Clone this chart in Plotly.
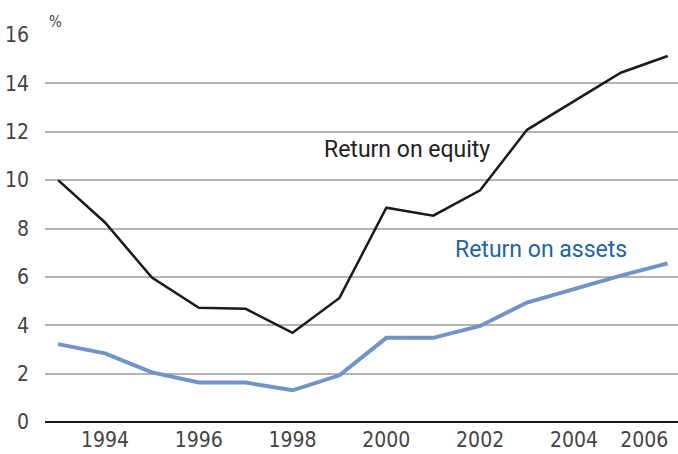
import plotly.graph_objects as go

years = list(range(1993, 2007))
roe = [10.0, 8.25, 5.97, 4.72, 4.68, 3.69, 5.13, 8.86, 8.53, 9.58, 12.08, 13.25, 14.44, 15.13]
roa = [3.22, 2.84, 2.05, 1.63, 1.63, 1.31, 1.93, 3.48, 3.48, 3.97, 4.94, 5.5, 6.05, 6.56]

x_tick_vals = [1994, 1996, 1998, 2000, 2002, 2004, 2005.5]
x_tick_text = ["1994", "1996", "1998", "2000", "2002", "2004", "2006"]
y_tick_vals = [0, 2, 4, 6, 8, 10, 12, 14, 16]

cond = "DejaVu Sans Condensed, Liberation Sans Narrow, Liberation Sans"
tick_font = dict(family=cond, size=21, color="#444444")

fig = go.Figure()
fig.add_trace(go.Scatter(x=years, y=roa, mode="lines", line=dict(color="#7094c6", width=4), showlegend=False, hoverinfo="skip"))
fig.add_trace(go.Scatter(x=years, y=roe, mode="lines", line=dict(color="#1a1a1a", width=2.5), showlegend=False, hoverinfo="skip"))

fig.add_annotation(x=2000.45, y=11.25, xref="x", yref="y", text="Return on equity", showarrow=False,
                   font=dict(family="Roboto", size=23, color="#222222"))
fig.add_annotation(x=2003.3, y=7.15, xref="x", yref="y", text="Return on assets", showarrow=False,
                   font=dict(family="Roboto", size=23, color="#1f64a6"))
fig.add_annotation(x=0, y=1, xref="paper", yref="paper", xshift=2, yshift=2, text="%", showarrow=False,
                   xanchor="left", yanchor="bottom", font=dict(family=cond, size=15, color="#444444"))

fig.update_layout(
    width=678, height=454,
    margin=dict(l=45, r=0, t=35, b=32),
    paper_bgcolor="white", plot_bgcolor="white",
    xaxis=dict(range=[1992.72, 2006.22], tickvals=x_tick_vals, ticktext=x_tick_text, showgrid=False,
               zeroline=False, showline=False, ticks="", tickfont=tick_font, ticklabelstandoff=3,
               automargin=False),
    yaxis=dict(range=[0, 16], tickvals=y_tick_vals, showgrid=True, gridcolor="#b4b4b4", gridwidth=1.5,
               zeroline=True, zerolinecolor="#1a1a1a", zerolinewidth=2, showline=False, ticks="",
               tickfont=tick_font, ticklabelstandoff=15, automargin=False),
)

fig.write_html("out.html", config={"displayModeBar": False},
               post_script="document.body.style.margin='0';document.body.style.padding='0';")
